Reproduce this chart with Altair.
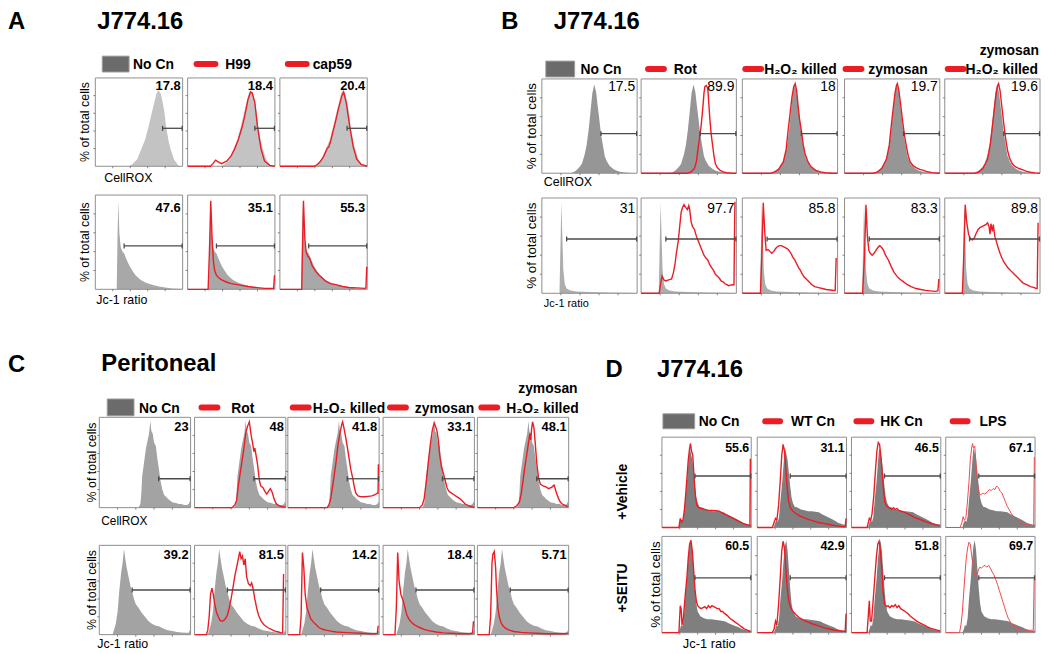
import altair as alt
import pandas as pd

# ============================ DATA ============================
# Histogram outlines: (position in % of panel width, height in % of panel height)

# ---- Panel A: J774.16 ----
A_CELLROX_NOCN = [(0,0),(38,0),(42,2),(48,8),(52,18),(57,30),(61,45),(65,62),(67,70),(70,82),(72,86),
                  (75,82),(77,73),(79,62),(81,45),(84,28),(86,20),(90,8),(92,5),(95,1),(98,0),(100,0)]
A_CELLROX_H99 = [(0,0),(26,0),(29,3),(32,7),(35,5),(39,3),(45,6),(50,12),(54,20),(58,30),(62,43),(65,55),
                 (69,75),(72,84),(74,83),(77,72),(80,45),(84,20),(88,6),(94,1),(100,0)]
A_CELLROX_CAP59 = [(0,0),(39,0),(43,2),(46,5),(50,11),(54,20),(56,22),(58,28),(61,40),(64,52),(67,65),
                   (71,80),(73,84),(76,72),(80,45),(84,22),(88,8),(93,2),(100,0)]
A_JC1_NOCN = [(0,0),(24.5,0),(25.5,60),(26.5,94),(27.5,60),(29,45),(31,40),(33,38),(36,31),(39,25),(43,19),
              (46,15),(52,10),(58,7),(66,4.5),(73,3),(80,2),(88,1),(95,0.6),(100,0.5)]
A_JC1_H99 = [(0,0),(23.5,0),(25,40),(26.5,94),(28,55),(29.5,30),(31,20),(33,15),(36,12),(39,10),(45,7.5),
             (50,6),(60,4.5),(69,3),(80,1.8),(88,1),(98.5,1),(99.5,15)]
A_JC1_CAP59 = [(0,0),(25,0),(26,50),(27,94),(28.5,55),(30,40),(32,35),(34,33),(37,25),(41,19),(45,15),
               (52,9),(58,6),(64,5),(72,3),(79,2),(88,1.5),(97,1),(98.5,1.5),(99.5,24)]
A_CELLROX_NUM = ["17.8", "18.4", "20.4"]
A_JC1_NUM = ["47.6", "35.1", "55.3"]
A_CELLROX_GATE = (77, 43)   # gate start %, gate height %
A_JC1_GATE = (33, 46)

# ---- Panel B: J774.16 ----
B_CELLROX_NOCN = [(0,0),(30,0),(33,1),(36,3),(40,7),(42,10),(45,20),(47,30),(49,45),(51,65),(53,85),(55,94),
                  (57,86),(58.5,72),(60,60),(62,42),(64,30),(66,18),(68,13),(71,8),(75,4.5),(78,3),(82,1.5),
                  (85,1),(90,0.4),(100,0)]
B_CELLROX_ROT = [(0,0),(48,0),(52,1),(56,5),(58,12),(59,20),(61,35),(63,50),(65,72),(66,85),(67,92),(68.5,93),
                 (70,90),(71,75),(72,60),(73.5,42),(75,30),(76.5,18),(78,10),(80,6),(83,3),(87,1),(90,0.5),
                 (95,0),(100,0)]
B_CELLROX_H2O2 = [(0,0),(30,0),(33,1),(38,4),(43,12),(46,25),(48,45),(50,62),(52,80),(54,92),(55.5,95),(57,88),
                  (58.5,72),(60,58),(62,45),(64,30),(66,20),(69,12),(72,7),(77,3),(82,1.5),(87,0.5),(95,0),(100,0)]
B_CELLROX_ZYM = [(0,0),(30,0),(34,1),(39,5),(44,15),(47,30),(49,50),(51,68),(53,85),(54.5,93),(55.5,95),(57,88),
                 (59,72),(61,55),(63,40),(65,28),(67,18),(69,12),(72,8),(75,6),(79,4),(83,3),(87,1.5),(92,0.6),
                 (97,0.3),(100,0)]
B_CELLROX_ZYMH2O2 = [(0,0),(31,0),(35,1),(40,5),(45,15),(48,32),(50,50),(52,68),(54,85),(55.5,93),(56.5,95),
                     (58,88),(60,70),(62,52),(64,36),(66,24),(68,16),(71,10),(74,7),(78,5),(82,3.5),(86,2),(90,1),
                     (95,0.4),(100,0)]
B_JC1_NOCN = [(0,0),(18.5,0),(19.5,50),(20.5,95),(21.5,60),(22.5,25),(24,10),(26,5),(30,3),(36,2),(50,1.3),
              (70,0.8),(90,0.5),(100,0.3)]
B_JC1_ROT = [(0,0),(19,0),(20.5,10),(22,18),(24,14),(26,13),(29,14),(32,15),(34,22),(35.5,30),(37,42),(39,55),
             (40.5,70),(42,85),(43.5,90),(45,93),(47,90),(48.5,88),(50,92),(51,88),(52.5,75),(54,70),(56,67),
             (58,60),(60,55),(62,50),(64,45),(66,40),(68,37),(70,35),(72,30),(74,27),(76,24),(78,20),(80,18),
             (82,16),(84,13),(86,12),(88,10),(90,9),(92,8),(94,8.5),(96,9),(97.5,9),(98,60),(98.5,96)]
B_JC1_H2O2 = [(0,0),(19,0),(20.5,40),(22,95),(23.5,65),(25,45),(27,46),(29,44),(31,42),(33,44),(35,47),(37,49),
              (39,50),(41,50),(43,49),(45,48),(47,47),(49,45),(51,42),(53,38),(55,35),(57,31),(59,27),(61,24),
              (63,20),(65,17),(67,15),(70,12),(73,9),(76,7),(80,6),(84,5),(88,4),(92,3.5),(96,3),(97.5,3),
              (98.5,37)]
B_JC1_ZYM = [(0,0),(19,0),(21,40),(22.5,93),(24,60),(25.5,45),(27,42),(29,40),(31,42),(33,45),(35,48),(37,50),
             (39,48),(41,45),(43,40),(46,35),(49,28),(52,22),(55,18),(58,15),(62,12),(66,9),(70,7),(75,5),
             (80,4),(85,3),(90,2.5),(95,2),(98,2.5),(99,15)]
B_JC1_ZYMH2O2 = [(0,0),(18.5,0),(20,40),(21.5,93),(23,75),(25,62),(27,57),(29,56),(31,58),(33,63),(35,67),
                 (37,69),(39,70),(41,71),(43,72),(45,74),(46.5,70),(47.5,62),(48.5,73),(50,65),(51,72),(52.5,60),
                 (54,55),(56,48),(58,42),(60,37),(62,33),(64,30),(66,27),(68,25),(70,23),(72,21),(74,19),(76,17),
                 (78,15),(80,13),(82,11),(84,10),(86,9),(88,8),(90,7),(92,6.5),(94,6),(96,5),(97,5),(98,74)]
B_CELLROX_NUM = ["17.5", "89.9", "18", "19.7", "19.6"]
B_JC1_NUM = ["31", "97.7", "85.8", "83.3", "89.8"]
B_CELLROX_GATE = (62, 42)
B_JC1_GATE = (26, 57)

# ---- Panel C: Peritoneal ----
C_CELLROX_NOCN = [(0,0),(43,0),(45,4),(46,15),(47,35),(49,50),(51,65),(53,75),(54.5,82),(56,96),(57,85),
                  (58.5,82),(60,72),(62,68),(63.5,55),(65,45),(67,30),(69,20),(71,14),(73,12),(76,9),(80,6),
                  (84,5),(87,4),(90,4),(93,3),(96,3),(98,4),(99,7),(100,3)]
C_CELLROX_ROT = [(0,0),(41,0),(44,3),(46,8),(48,25),(51,45),(54,65),(56,82),(58,90),(60,95),(62,80),(63.5,72),
                 (65,62),(66,66),(67,60),(69,48),(71,30),(72.5,24),(75,22),(77,18),(79,15),(81,18),(83,21),
                 (85,17),(87,10),(89,5),(91,3),(93,2),(96,1),(100,0.5)]
C_CELLROX_H2O2 = [(0,0),(43,0),(45,3),(47,10),(50,30),(53,52),(55,70),(57,82),(59,92),(60,95),(61.5,88),(63,80),
                  (65,68),(67,55),(69,42),(71,33),(73,22),(74.5,16),(77,13),(80,12),(84,12),(88,12.5),(92,13),
                  (95,14),(98,16),(98.8,16),(99.2,48)]
C_CELLROX_ZYM = [(0,0),(40,0),(43,3),(45,10),(48,35),(50,55),(52,72),(54,86),(56,94),(57.5,90),(59,85),
                 (60.5,75),(62,58),(64,45),(66,38),(68,30),(70,22),(72,18),(75,16),(78,14),(81,12),(84,10),
                 (87,7),(90,4),(94,2),(97,1),(100,0)]
C_CELLROX_ZYMH2O2 = [(0,0),(40,0),(43,2),(46,6),(48,15),(50,30),(52,45),(54,58),(56,72),(57.5,82),(58.5,75),
                     (59.5,88),(60.5,95),(62,88),(63.5,70),(65,50),(67,33),(69,26),(72,24),(75,23),(78,21),
                     (80,22),(82,23),(84,25),(85.5,20),(87,15),(89,10),(91,6),(93,4),(95,3),(97,2),(99,1)]
C_JC1_NOCN = [(0,0),(14.5,0),(16,5),(18,12),(20,25),(22,50),(24,70),(25.5,80),(27,96),(28.5,85),(30,75),
              (32,65),(34,55),(36,48),(38,40),(40,34),(43,30),(46,25),(50,20),(54,15),(58,12),(62,10),(66,9),
              (70,7),(75,5),(80,4),(85,3),(90,2.5),(95,2),(98,2),(99,5),(100,3)]
C_JC1_ROT = [(0,0),(13,0),(14.5,5),(16,20),(17.5,45),(19,52),(20.5,45),(22,35),(24,25),(26,20),(28,16),
             (30,15),(32,16),(34,18),(36,22),(38,30),(40,40),(42,52),(44,65),(46,75),(48,85),(49.5,93),(51,85),
             (52.5,88),(54,78),(55.5,85),(57,65),(59,57),(61,55),(62.5,58),(64,52),(66,40),(68,30),(70,22),
             (73,15),(76,11),(80,8),(84,6),(88,4),(92,3),(95,2),(96.5,2),(97.5,68)]
C_JC1_H2O2 = [(0,0),(13,0),(14.5,20),(16,92),(17.5,75),(19,45),(21,30),(23,24),(25,18),(28,14),(31,11),
              (34,8),(38,6),(42,5),(47,4),(53,3),(60,2.5),(70,2),(80,1.5),(90,1),(96,1),(98,1.5),(99,10)]
C_JC1_ZYM = [(0,0),(13,0),(14.5,30),(16,92),(17.5,60),(19.5,45),(22,38),(24,30),(26,22),(28,18),(30,15),
             (33,12),(36,10),(40,8),(45,6),(50,4.5),(58,3),(66,2),(75,1.5),(85,1),(95,1),(98,2),(99,15)]
C_JC1_ZYMH2O2 = [(0,0),(13,0),(14.5,20),(16,80),(17,90),(18.5,93),(20,75),(21,50),(22.5,30),(24,20),(26,13),
                 (28,10),(31,7),(35,5),(40,3.5),(48,2.5),(56,2),(65,1.5),(75,1),(85,1),(95,1),(99,1.5)]
C_CELLROX_NUM = ["23", "48", "41.8", "33.1", "48.1"]
C_JC1_NUM = ["39.2", "81.5", "14.2", "18.4", "5.71"]
C_CELLROX_GATE = (65, 32)
C_JC1_GATE = (36, 50)

# ---- Panel D: J774.16, Jc-1 ratio ----
D_VEH_NOCN = [(0,0),(18.5,0),(20,5),(21.5,8),(23,6),(24.5,12),(26,30),(28,50),(29.5,70),(31,89),(32.5,82),
              (34,75),(35.5,60),(37,45),(38.5,33),(40,27),(42,23),(45,22),(49,20),(53,19),(57,18),(61,18),
              (65,17.5),(69,17),(72,15),(76,13),(80,11),(84,9),(88,7),(91,5),(94,4),(97,3),(99,3),(100,3)]
D_VEH_NOCN_RED = [(0,0),(19,0),(20.5,10),(22,6),(23.5,8),(25,18),(26.5,35),(28,55),(29.5,75),(31,88),(32,93),
                  (33,85),(34.5,80),(36,55),(37.5,35),(39,25),(41,22),(44,21),(48,20),(52,19),(56,19),
                  (60,18.5),(64,18),(68,16),(72,14),(76,12),(80,10),(84,8),(88,6),(92,4),(95,3),(98.5,2),(99,76)]
D_VEH_WT = [(0,0),(17,0),(19,6),(20.5,10),(22,8),(24,25),(26,55),(27.5,80),(29,92),(30.5,85),(32,65),
            (33.5,45),(35,30),(37,22),(40,18),(44,15),(48,12.5),(52,11),(57,9),(62,7.5),(67,6),(72,5),(77,4),
            (82,3),(87,2),(91,1.5),(95,1),(98.5,1),(99.5,10)]
D_VEH_HK = [(0,0),(17.5,0),(19,6),(20,10),(21.5,8),(23,15),(25,35),(27,65),(28.5,85),(30,94),(31.5,92),
            (33,78),(34.5,60),(36,40),(37.5,28),(39,24),(42,22),(45,20),(47,22),(49,20),(51,21),(53,19),(56,18),
            (59,17),(63,15),(67,13),(71,11),(75,9.5),(79,8),(83,6.5),(87,5),(91,4),(94,3),(97,2.5),(99,2.5)]
D_VEH_LPS = [(0,0),(16,0),(18,5),(19.5,12),(21,8),(22.5,10),(24,25),(26,50),(27.5,75),(29,88),(30,93),(31,88),
             (32.5,90),(34,70),(36,45),(37.5,38),(39,36),(41,38),(43,37),(45,38),(47,40),(49,42),(51,41),(53,43),
             (55,42),(57,46),(59,44),(61,40),(63,38),(65,33),(67,28),(69,23),(71,20),(73,16),(76,12),(79,9),
             (83,6),(87,4),(91,3),(94,2.5),(97,2.5),(98.5,2.5),(99.2,78)]
D_SEITU_NOCN = [(0,0),(18.5,0),(20,3),(21.5,8),(23,7),(24.5,15),(26,35),(28,55),(29.5,75),(31,90),(32.5,96),
                (34,85),(35.5,65),(37,45),(38.5,30),(40,22),(43,17),(47,15),(51,14),(55,14),(59,13.5),(63,13),
                (67,12.5),(71,11.5),(74,10),(78,8.5),(82,7),(86,5.5),(89,4),(92,3),(96,2),(99,2),(100,2)]
D_SEITU_NOCN_RED = [(0,0),(19,0),(20.5,28),(21.5,25),(22.5,8),(24,15),(26,38),(28,58),(29.5,78),(31,92),
                    (32.5,96),(34,85),(35.5,65),(37,45),(38.5,33),(40,28),(42,26),(44,25),(46,26),(48,27),
                    (50,25),(52,28),(54,26),(56,28),(58,27),(60,26),(62,25),(64,25),(66,22),(68,22),(70,20),
                    (73,18),(76,15),(79,13),(82,11),(85,9),(88,7),(90,5.5),(92,4),(95,3),(97,2),(99,1.5)]
D_SEITU_WT = [(0,0),(17,0),(19,4),(20.5,12),(22,8),(24,30),(26,60),(27.5,85),(29,95),(30.5,88),(32,68),
              (33.5,48),(35,35),(37,27),(40,22),(44,18),(48,15),(52,13),(57,11),(62,9),(67,7.5),(72,6),
              (77,4.5),(82,3.5),(87,2.5),(91,2),(95,1.5),(98.5,1.5),(99.5,20)]
D_SEITU_HK = [(0,0),(17.5,0),(19,20),(20,33),(21,12),(22.5,12),(24,30),(26,55),(28,80),(29.5,92),(31,95),
              (32.5,85),(34,65),(35.5,42),(37,30),(39,27),(41,28),(43,26),(45,28),(47,27),(49,29),(51,26),
              (53,28),(55,25),(57,24),(60,22),(63,20),(66,17),(69,15),(73,12),(77,10),(81,8),(85,6),(89,4.5),
              (93,3.5),(96,2.5),(99,2)]
D_SEITU_LPS = [(0,0),(15.5,0),(17,8),(18.5,20),(20,40),(21.5,60),(23,78),(24.5,88),(26,94),(27.5,92),(29,80),
               (30.5,70),(32,62),(33.5,58),(35,60),(36.5,65),(38,68),(40,67),(42,69),(44,70),(46,68),(48,70),
               (50,67),(52,63),(54,60),(56,55),(58,50),(60,44),(62,38),(64,32),(66,26),(68,20),(70,15),(73,10),
               (76,7),(79,5),(83,4),(87,3),(91,2.5),(95,2.5),(98,2.5),(99,55)]
D_VEH_NUM = ["55.6", "31.1", "46.5", "67.1"]
D_SEITU_NUM = ["60.5", "42.9", "51.8", "69.7"]
D_GATE = (37, 57)

# ---- texts ----
PANEL_LETTERS = ["A", "B", "C", "D"]
PANEL_TITLES = ["J774.16", "J774.16", "Peritoneal", "J774.16"]
A_LEGEND = ["No Cn", "H99", "cap59"]
B_LEGEND = ["No Cn", "Rot", "H₂O₂ killed", "zymosan", "H₂O₂ killed"]
B_LEGEND_LINE1 = ["", "", "", "", "zymosan"]
C_LEGEND = ["No Cn", "Rot", "H₂O₂ killed", "zymosan", "H₂O₂ killed"]
C_LEGEND_LINE1 = ["", "", "", "", "zymosan"]
D_LEGEND = ["No Cn", "WT Cn", "HK Cn", "LPS"]
D_ROWS = ["+Vehicle", "+SEITU"]
Y_TITLE = "% of total cells"
X_CELLROX = "CellROX"
X_JC1 = "Jc-1 ratio"

# ============================ LAYOUT (positions / styles only) ============================
FONT = "Liberation Sans"
RED = "#ec1c24"
PANELS = [
    dict(cols=[96, 189, 282], w=88, tops=[76, 194], hs=[89, 95], fills=["#c3c3c3", "#a8a8a8"],
         rows=[(A_CELLROX_NOCN, [None, A_CELLROX_H99, A_CELLROX_CAP59], A_CELLROX_NUM, A_CELLROX_GATE),
               (A_JC1_NOCN, [None, A_JC1_H99, A_JC1_CAP59], A_JC1_NUM, A_JC1_GATE)],
         num_dy=[12.5, 17], num_fs=13, num_bold=True, thin=[],
         letter=(8, 27), title=(98, 27),
         leg=dict(labels=A_LEGEND, line1=None, sw=[103, 195, 287], tx=[134, 227, 315], cy=62, base=67,
                  gw=27, gh=16, rl=25, l1=None),
         ylab=dict(x=90, fs=12.5, rows=[0, 1]),
         xlab=[(X_CELLROX, 105, 181, 12.5), (X_JC1, 97, 304, 12.5)]),
    dict(cols=[546, 646, 748, 851, 952], w=96, tops=[77, 197], hs=[95, 96], fills=["#969696", "#adadad"],
         rows=[(B_CELLROX_NOCN, [None, B_CELLROX_ROT, B_CELLROX_H2O2, B_CELLROX_ZYM, B_CELLROX_ZYMH2O2],
                B_CELLROX_NUM, B_CELLROX_GATE),
               (B_JC1_NOCN, [None, B_JC1_ROT, B_JC1_H2O2, B_JC1_ZYM, B_JC1_ZYMH2O2], B_JC1_NUM, B_JC1_GATE)],
         num_dy=[12, 15], num_fs=14, num_bold=False, thin=[],
         letter=(505, 27), title=(558, 27),
         leg=dict(labels=B_LEGEND, line1=B_LEGEND_LINE1, sw=[550, 650, 748, 849, 952],
                  tx=[585, 679, 770, 875, 973], cy=67, base=72, gw=29, gh=16, rl=22, l1=(1047, 53)),
         ylab=dict(x=540, fs=13.5, rows=[0, 1]),
         xlab=[(X_CELLROX, 548, 185, 12.5), (X_JC1, 548, 307, 11)]),
    dict(cols=[100, 196, 290, 386, 481], w=92, tops=[418, 547], hs=[91, 90], fills=["#a3a3a3", "#a3a3a3"],
         rows=[(C_CELLROX_NOCN, [None, C_CELLROX_ROT, C_CELLROX_H2O2, C_CELLROX_ZYM, C_CELLROX_ZYMH2O2],
                C_CELLROX_NUM, C_CELLROX_GATE),
               (C_JC1_NOCN, [None, C_JC1_ROT, C_JC1_H2O2, C_JC1_ZYM, C_JC1_ZYMH2O2], C_JC1_NUM, C_JC1_GATE)],
         num_dy=[14, 14], num_fs=13, num_bold=True, thin=[],
         letter=(8, 372), title=(102, 371),
         leg=dict(labels=C_LEGEND, line1=C_LEGEND_LINE1, sw=[108, 200, 292, 390, 482],
                  tx=[140, 233, 315, 418, 510], cy=408, base=414, gw=27, gh=17, rl=22, l1=(582, 393)),
         ylab=dict(x=97, fs=12.5, rows=[0, 1]),
         xlab=[(X_CELLROX, 102, 527, 12), (X_JC1, 98, 650, 12.5)]),
    dict(cols=[667, 763, 858, 953], w=90, tops=[438, 538], hs=[91, 97], fills=["#7f7f7f", "#7f7f7f"],
         rows=[(D_VEH_NOCN, [D_VEH_NOCN_RED, D_VEH_WT, D_VEH_HK, D_VEH_LPS], D_VEH_NUM, D_GATE),
               (D_SEITU_NOCN, [D_SEITU_NOCN_RED, D_SEITU_WT, D_SEITU_HK, D_SEITU_LPS], D_SEITU_NUM, D_GATE)],
         num_dy=[14.5, 14], num_fs=12.5, num_bold=True, thin=[3],
         letter=(610, 377), title=(662, 377),
         leg=dict(labels=D_LEGEND, line1=None, sw=[668, 768, 860, 957], tx=[704, 797, 887, 987],
                  cy=422, base=427, gw=32, gh=15, rl=21, l1=None),
         ylab=dict(x=665, fs=13.5, rows=[1]),
         xlab=[(X_JC1, 688, 650, 13)],
         rowlab=dict(x=632, ys=[493, 590])),
]

# ============================ BUILD TABLES ============================
areas, lines, boxes, rules, ticks = [], [], [], [], []
nums_bold, nums_reg = [], []
big_txt, leg_txt, leg_l1, ylabs, xlabs, rowlabs = [], [], [], [], [], []
leg_rect, leg_line = [], []

for pi, P in enumerate(PANELS):
    w = P["w"]
    big_txt.append(dict(x=P["letter"][0], y=P["letter"][1], t=PANEL_LETTERS[pi]))
    big_txt.append(dict(x=P["title"][0], y=P["title"][1], t=PANEL_TITLES[pi]))
    for r, (grey, reds, numbers, gate) in enumerate(P["rows"]):
        top, h = P["tops"][r], P["hs"][r]
        bot = top + h
        for c, left in enumerate(P["cols"]):
            gid = f"{pi}-{r}-{c}"
            for fx, fy in grey:
                areas.append(dict(g=gid, X=left + fx / 100 * w, Y=bot - fy / 100 * h, Y0=bot, f=P["fills"][r]))
            red = reds[c]
            if red is not None:
                style = "thin" if c in P["thin"] else "normal"
                for fx, fy in red:
                    lines.append(dict(g=gid, X=left + fx / 100 * w, Y=bot - fy / 100 * h, s=style))
            boxes.append(dict(x=left, x2=left + w, y=top, y2=bot))
            for k in range(1, 5):
                ty = bot - k * 0.2 * h
                ticks.append(dict(x=left - 2, x2=left, y=ty, y2=ty))
                tx = left + k * 0.2 * w
                ticks.append(dict(x=tx, x2=tx, y=bot, y2=bot + 2))
            gx = left + gate[0] / 100 * w
            gy = bot - gate[1] / 100 * h
            rules.append(dict(x=gx, x2=left + w - 0.5, y=gy, y2=gy))
            rules.append(dict(x=gx, x2=gx, y=gy - 2.5, y2=gy + 2.5))
            rules.append(dict(x=left + w - 0.5, x2=left + w - 0.5, y=gy - 2.5, y2=gy + 2.5))
            nrow = dict(x=left + w - 2, y=top + P["num_dy"][r], t=numbers[c], fs=P["num_fs"])
            (nums_bold if P["num_bold"] else nums_reg).append(nrow)
        if r in P["ylab"]["rows"]:
            ylabs.append(dict(x=P["ylab"]["x"], y=top + h / 2, t=Y_TITLE, fs=P["ylab"]["fs"]))
        if "rowlab" in P:
            rowlabs.append(dict(x=P["rowlab"]["x"], y=P["rowlab"]["ys"][r], t=D_ROWS[r]))
    for (t, x, y, fs) in P["xlab"]:
        xlabs.append(dict(x=x, y=y, t=t, fs=fs))
    L = P["leg"]
    for c, lab in enumerate(L["labels"]):
        sx = L["sw"][c]
        if c == 0:
            leg_rect.append(dict(x=sx, x2=sx + L["gw"], y=L["cy"] - L["gh"] / 2, y2=L["cy"] + L["gh"] / 2))
        else:
            leg_line.append(dict(x=sx + 3, x2=sx + L["rl"] - 3, y=L["cy"], y2=L["cy"]))
        leg_txt.append(dict(x=L["tx"][c], y=L["base"], t=lab))
        if L["line1"] and L["line1"][c]:
            leg_l1.append(dict(x=L["l1"][0], y=L["l1"][1], t=L["line1"][c]))

# ============================ CHART ============================
XS = alt.Scale(domain=[8, 1050], nice=False, zero=False)
YS = alt.Scale(domain=[8, 654], nice=False, zero=False, reverse=True)


def X(f):
    return alt.X(f"{f}:Q", scale=XS, axis=None)


def Y(f):
    return alt.Y(f"{f}:Q", scale=YS, axis=None)


df = pd.DataFrame
area_layer = alt.Chart(df(areas)).mark_area(interpolate="linear").encode(
    x=X("X"), y=Y("Y"), y2="Y0:Q", detail="g:N", color=alt.Color("f:N", scale=None))
box_layer = alt.Chart(df(boxes)).mark_rect(fillOpacity=0, stroke="#8e8e8e", strokeWidth=1).encode(
    x=X("x"), x2="x2:Q", y=Y("y"), y2="y2:Q")
tick_layer = alt.Chart(df(ticks)).mark_rule(color="#666666", strokeWidth=0.8).encode(
    x=X("x"), x2="x2:Q", y=Y("y"), y2="y2:Q")
ldf = df(lines)
red_layer = alt.Chart(ldf[ldf.s == "normal"]).mark_line(color=RED, strokeWidth=1.4).encode(
    x=X("X"), y=Y("Y"), detail="g:N")
thin_layer = alt.Chart(ldf[ldf.s == "thin"]).mark_line(color="#f0484e", strokeWidth=1.0).encode(
    x=X("X"), y=Y("Y"), detail="g:N")
gate_layer = alt.Chart(df(rules)).mark_rule(color="#4a4a4a", strokeWidth=1.3).encode(
    x=X("x"), x2="x2:Q", y=Y("y"), y2="y2:Q")
legrect_layer = alt.Chart(df(leg_rect)).mark_rect(fill="#6b6b6b", stroke="#9c9c9c", strokeWidth=1).encode(
    x=X("x"), x2="x2:Q", y=Y("y"), y2="y2:Q")
legline_layer = alt.Chart(df(leg_line)).mark_rule(color=RED, strokeWidth=6, strokeCap="round").encode(
    x=X("x"), x2="x2:Q", y=Y("y"), y2="y2:Q")

big_layer = alt.Chart(df(big_txt)).mark_text(font=FONT, fontWeight="bold", fontSize=24, align="left",
                                             baseline="alphabetic", color="black").encode(
    x=X("x"), y=Y("y"), text="t:N")
legtxt_layer = alt.Chart(df(leg_txt)).mark_text(font=FONT, fontWeight="bold", fontSize=14, align="left",
                                                baseline="alphabetic", color="black").encode(
    x=X("x"), y=Y("y"), text="t:N")
legl1_layer = alt.Chart(df(leg_l1)).mark_text(font=FONT, fontWeight="bold", fontSize=14, align="right",
                                              baseline="alphabetic", color="black").encode(
    x=X("x"), y=Y("y"), text="t:N")
numb_layer = alt.Chart(df(nums_bold)).mark_text(font=FONT, fontWeight="bold", align="right",
                                                baseline="alphabetic", color="black").encode(
    x=X("x"), y=Y("y"), text="t:N", size=alt.Size("fs:Q", scale=None))
numr_layer = alt.Chart(df(nums_reg)).mark_text(font=FONT, align="right", baseline="alphabetic",
                                               color="black").encode(
    x=X("x"), y=Y("y"), text="t:N", size=alt.Size("fs:Q", scale=None))
ylab_layer = alt.Chart(df(ylabs)).mark_text(font=FONT, angle=270, align="center", baseline="alphabetic",
                                            color="black").encode(
    x=X("x"), y=Y("y"), text="t:N", size=alt.Size("fs:Q", scale=None))
xlab_layer = alt.Chart(df(xlabs)).mark_text(font=FONT, align="left", baseline="alphabetic",
                                            color="black").encode(
    x=X("x"), y=Y("y"), text="t:N", size=alt.Size("fs:Q", scale=None))
row_layer = alt.Chart(df(rowlabs)).mark_text(font=FONT, fontWeight="bold", fontSize=14, angle=270,
                                             align="center", baseline="alphabetic", color="black").encode(
    x=X("x"), y=Y("y"), text="t:N")

chart = alt.layer(
    area_layer, box_layer, tick_layer, red_layer, thin_layer, gate_layer,
    legrect_layer, legline_layer, big_layer, legtxt_layer, legl1_layer,
    numb_layer, numr_layer, ylab_layer, xlab_layer, row_layer,
).properties(
    width=1042, height=646, padding=0, autosize="none", background="white"
).configure_view(stroke=None)

chart.save("out.html", embed_options={"renderer": "svg", "actions": False})
